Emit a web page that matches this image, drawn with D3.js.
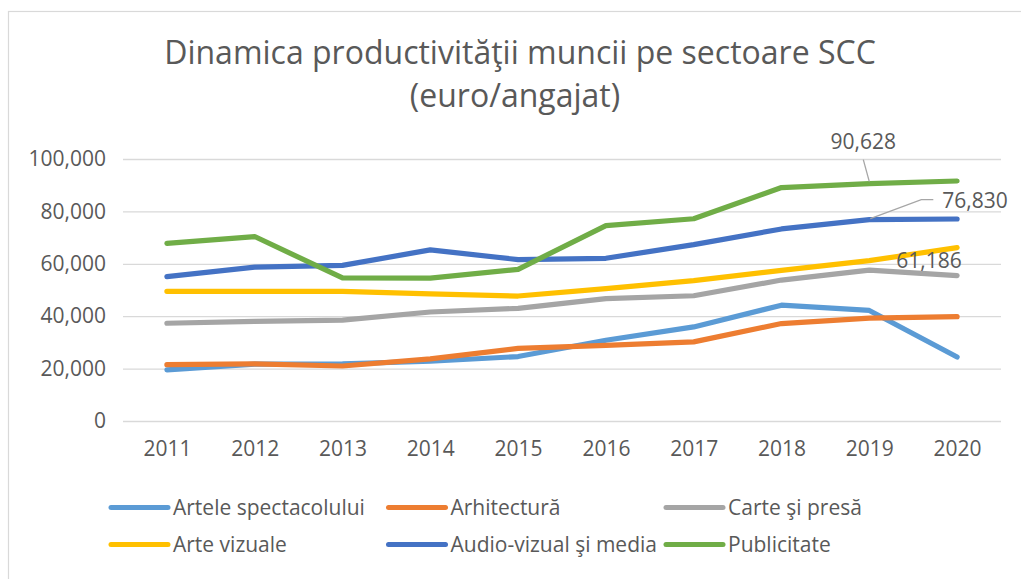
<!DOCTYPE html>
<html>
<head>
<meta charset="utf-8">
<script src="https://cdn.jsdelivr.net/npm/d3@7"></script>
<style>
  body { margin: 0; background: #fff; }
  svg { display: block; font-family: "Open Sans", sans-serif; }
</style>
</head>
<body>
<svg id="chart" width="1021" height="579"></svg>
<script>
// data
const years = ['2011', '2012', '2013', '2014', '2015', '2016', '2017', '2018', '2019', '2020'];

const artele      = [19500, 21700, 21800, 22800, 24600, 30800, 35900, 44200, 42200, 24400];
const arhitectura = [21500, 21800, 21000, 23700, 27700, 28900, 30200, 37200, 39300, 39800];
const carte       = [37300, 38000, 38500, 41600, 43000, 46700, 47800, 53800, 57600, 55500];
const arteViz     = [49500, 49500, 49500, 48500, 47700, 50500, 53600, 57500, 61186, 66200];
const audio       = [55100, 58700, 59400, 65300, 61600, 62100, 67300, 73300, 76830, 77100];
const publicitate = [67800, 70400, 54600, 54500, 57900, 74600, 77200, 89100, 90628, 91600];

const seriesNames  = ['Artele spectacolului', 'Arhitectură', 'Carte şi presă', 'Arte vizuale', 'Audio-vizual şi media', 'Publicitate'];
const seriesValues = [artele, arhitectura, carte, arteViz, audio, publicitate];
const seriesColors = ['#5B9BD5', '#ED7D31', '#A5A5A5', '#FFC000', '#4472C4', '#70AD47'];

const yTicks = [0, 20000, 40000, 60000, 80000, 100000];

// labelled points: series index + year
const labelled = [
    { s: 5, year: '2019' },
    { s: 4, year: '2019' },
    { s: 3, year: '2019' }
];

const TEXT = '#595959';
const GRID = '#D9D9D9';
const fmt = d3.format(',');

const svg = d3.select('#chart');

// chart border
svg.append('rect')
    .attr('x', 8.5).attr('y', 11.5)
    .attr('width', 1040).attr('height', 600)
    .attr('fill', 'none').attr('stroke', GRID).attr('stroke-width', 1.2);

// title
const title = svg.append('text')
    .attr('text-anchor', 'middle')
    .attr('fill', TEXT)
    .style('font-size', '32px');
title.append('tspan').attr('x', 520).attr('y', 64).text('Dinamica productivităţii muncii pe sectoare SCC');
title.append('tspan').attr('x', 515).attr('y', 107).text('(euro/angajat)');

const plotL = 123, plotR = 1001, plotT = 159, plotB = 421;

const x = d3.scalePoint().domain(years).range([plotL, plotR]).padding(0.5);
const y = d3.scaleLinear().domain([0, 100000]).range([plotB, plotT]);

// gridlines + y labels
const yAxis = svg.append('g')
    .attr('transform', `translate(${plotL},0)`)
    .call(d3.axisLeft(y).tickValues(yTicks).tickFormat(fmt).tickSize(-(plotR - plotL)).tickPadding(17));
yAxis.select('.domain').remove();
yAxis.selectAll('.tick line').attr('stroke', GRID).attr('stroke-width', 1.3);
yAxis.selectAll('.tick text').attr('fill', TEXT).style('font-size', '21px').style('font-family', '"Open Sans", sans-serif');

// x labels
const xAxis = svg.append('g')
    .attr('transform', `translate(0,${plotB})`)
    .call(d3.axisBottom(x).tickSize(0).tickPadding(20));
xAxis.select('.domain').remove();
xAxis.selectAll('.tick text').attr('fill', TEXT).style('font-size', '21px').style('font-family', '"Open Sans", sans-serif');

// lines
const line = d3.line()
    .x((d, i) => x(years[i]))
    .y(d => y(d));

svg.append('g').selectAll('path')
    .data(seriesValues)
    .join('path')
    .attr('d', d => line(d))
    .attr('fill', 'none')
    .attr('stroke', (d, i) => seriesColors[i])
    .attr('stroke-width', 5.2)
    .attr('stroke-linejoin', 'round')
    .attr('stroke-linecap', 'round');

// data labels with leader lines
const lab = svg.append('g').attr('fill', TEXT).style('font-size', '21px');
labelled.forEach(l => {
    const i = years.indexOf(l.year);
    const v = seriesValues[l.s][i];
    const px = x(l.year), py = y(v);
    if (l.s === 5) {
        lab.append('path')
            .attr('d', `M${px - 6},${py - 24} L${px},${py - 2}`)
            .attr('stroke', '#A6A6A6').attr('stroke-width', 1.3).attr('fill', 'none');
        lab.append('text').attr('x', px - 6).attr('y', py - 35).attr('text-anchor', 'middle').text(fmt(v));
    } else if (l.s === 4) {
        lab.append('path')
            .attr('d', `M${px + 1},${py - 1} L${px + 52},${py - 20} L${px + 64},${py - 20}`)
            .attr('stroke', '#A6A6A6').attr('stroke-width', 1.3).attr('fill', 'none');
        lab.append('text').attr('x', px + 73).attr('y', py - 12).text(fmt(v));
    } else {
        lab.append('text').attr('x', px + 27).attr('y', py + 7).text(fmt(v));
    }
});

// legend, 3 columns x 2 rows
const legend = svg.append('g');
seriesNames.forEach((name, i) => {
    const col = i % 3, row = Math.floor(i / 3);
    const lx = 111 + col * 277.5, ly = 507.5 + row * 37;
    legend.append('line')
        .attr('x1', lx).attr('x2', lx + 57)
        .attr('y1', ly).attr('y2', ly)
        .attr('stroke', seriesColors[i]).attr('stroke-width', 5).attr('stroke-linecap', 'round');
    legend.append('text')
        .attr('x', lx + 62).attr('y', ly + 7.5)
        .attr('fill', TEXT).style('font-size', '21px')
        .text(name);
});
</script>
</body>
</html>
